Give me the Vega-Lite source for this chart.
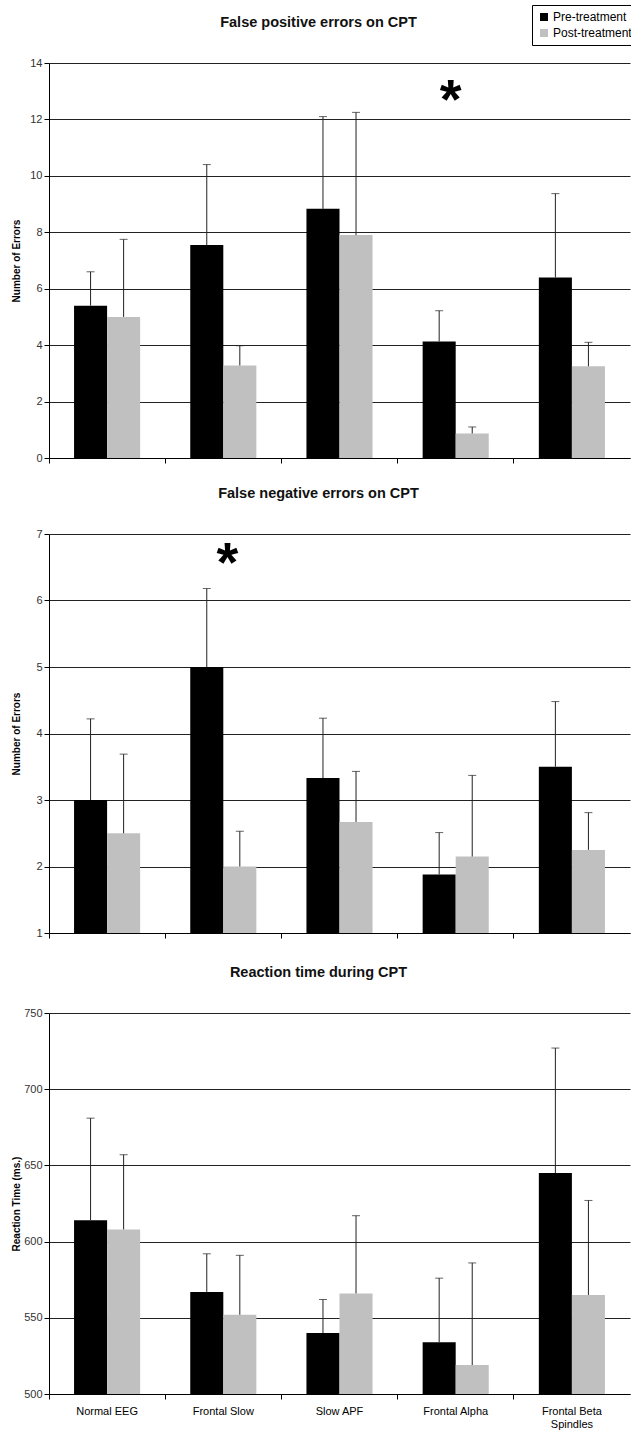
{
  "$schema": "https://vega.github.io/schema/vega-lite/v6.json",
  "autosize": {"type": "pad"},
  "padding": {"left": 11, "top": 4, "right": 0, "bottom": 8},
  "background": "white",
  "bounds": "flush",
  "spacing": 76,
  "config": {
    "font": "Liberation Sans",
    "view": {"stroke": null},
    "title": {"fontSize": 14.5, "fontWeight": "bold", "color": "#111", "offset": 27, "dx": -21, "anchor": "middle"},
    "axis": {"labelFont": "Liberation Sans", "labelFontSize": 11, "labelColor": "#333", "domainColor": "black", "tickColor": "black", "gridColor": "#222", "gridOpacity": 1, "titleFontSize": 10, "titleFontWeight": "bold", "titleColor": "black", "tickSize": 5, "labelPadding": 2},
    "legend": {"labelFont": "Liberation Sans", "labelFontSize": 12, "labelColor": "black"}
  },
  "datasets": {
    "fp": [
      {"category": "Normal EEG", "group": "Pre-treatment", "value": 5.4, "err": 6.6},
      {"category": "Normal EEG", "group": "Post-treatment", "value": 5.0, "err": 7.75},
      {"category": "Frontal Slow", "group": "Pre-treatment", "value": 7.55, "err": 10.4},
      {"category": "Frontal Slow", "group": "Post-treatment", "value": 3.28, "err": 3.98},
      {"category": "Slow APF", "group": "Pre-treatment", "value": 8.83, "err": 12.1},
      {"category": "Slow APF", "group": "Post-treatment", "value": 7.9, "err": 12.25},
      {"category": "Frontal Alpha", "group": "Pre-treatment", "value": 4.13, "err": 5.22},
      {"category": "Frontal Alpha", "group": "Post-treatment", "value": 0.87, "err": 1.1},
      {"category": "Frontal Beta Spindles", "group": "Pre-treatment", "value": 6.4, "err": 9.37},
      {"category": "Frontal Beta Spindles", "group": "Post-treatment", "value": 3.25, "err": 4.1}
    ],
    "fn": [
      {"category": "Normal EEG", "group": "Pre-treatment", "value": 3.0, "err": 4.22},
      {"category": "Normal EEG", "group": "Post-treatment", "value": 2.5, "err": 3.69},
      {"category": "Frontal Slow", "group": "Pre-treatment", "value": 5.0, "err": 6.18},
      {"category": "Frontal Slow", "group": "Post-treatment", "value": 2.0, "err": 2.53},
      {"category": "Slow APF", "group": "Pre-treatment", "value": 3.33, "err": 4.23},
      {"category": "Slow APF", "group": "Post-treatment", "value": 2.67, "err": 3.43},
      {"category": "Frontal Alpha", "group": "Pre-treatment", "value": 1.88, "err": 2.51},
      {"category": "Frontal Alpha", "group": "Post-treatment", "value": 2.15, "err": 3.37},
      {"category": "Frontal Beta Spindles", "group": "Pre-treatment", "value": 3.5, "err": 4.48},
      {"category": "Frontal Beta Spindles", "group": "Post-treatment", "value": 2.25, "err": 2.81}
    ],
    "rt": [
      {"category": "Normal EEG", "group": "Pre-treatment", "value": 614, "err": 681},
      {"category": "Normal EEG", "group": "Post-treatment", "value": 608, "err": 657},
      {"category": "Frontal Slow", "group": "Pre-treatment", "value": 567, "err": 592},
      {"category": "Frontal Slow", "group": "Post-treatment", "value": 552, "err": 591},
      {"category": "Slow APF", "group": "Pre-treatment", "value": 540, "err": 562},
      {"category": "Slow APF", "group": "Post-treatment", "value": 566, "err": 617},
      {"category": "Frontal Alpha", "group": "Pre-treatment", "value": 534, "err": 576},
      {"category": "Frontal Alpha", "group": "Post-treatment", "value": 519, "err": 586},
      {"category": "Frontal Beta Spindles", "group": "Pre-treatment", "value": 645, "err": 727},
      {"category": "Frontal Beta Spindles", "group": "Post-treatment", "value": 565, "err": 627}
    ],
    "star1": [{"category": "Frontal Alpha", "y": 12.65, "label": "*"}],
    "star2": [{"category": "Frontal Slow", "y": 6.55, "label": "*"}]
  },
  "vconcat": [
    {
      "title": "False positive errors on CPT",
      "width": 581,
      "height": 395,
      "data": {"name": "fp"},
      "encoding": {
        "x": {"field": "category", "type": "nominal", "sort": null, "scale": {"paddingInner": 0, "paddingOuter": 0},
              "axis": {"title": null, "labels": false, "bandPosition": 0, "grid": false}}
      },
      "layer": [
        {
          "mark": {"type": "bar"},
          "encoding": {
            "xOffset": {"field": "group", "type": "nominal", "sort": ["Pre-treatment", "Post-treatment"], "scale": {"paddingInner": 0, "paddingOuter": 0.758}},
            "y": {"field": "value", "type": "quantitative", "scale": {"domain": [0, 14], "nice": false},
                  "axis": {"title": "Number of Errors", "values": [0, 2, 4, 6, 8, 10, 12, 14], "grid": true, "titleX": -28}},
            "color": {"field": "group", "type": "nominal", "sort": ["Pre-treatment", "Post-treatment"],
                      "scale": {"domain": ["Pre-treatment", "Post-treatment"], "range": ["#000000", "#c0c0c0"]},
                      "legend": {"title": null, "orient": "none", "legendX": 483, "legendY": -58, "symbolType": "square", "symbolSize": 64, "symbolStrokeWidth": 0, "strokeColor": "black", "fillColor": "white", "padding": 6, "rowPadding": 4, "labelOffset": 3}}
          }
        },
        {
          "mark": {"type": "rule", "color": "#222"},
          "encoding": {"xOffset": {"field": "group", "type": "nominal", "sort": ["Pre-treatment", "Post-treatment"]}, "y": {"field": "value", "type": "quantitative"}, "y2": {"field": "err"}}
        },
        {
          "mark": {"type": "tick", "color": "#222", "orient": "horizontal", "size": 8, "thickness": 1},
          "encoding": {"xOffset": {"field": "group", "type": "nominal", "sort": ["Pre-treatment", "Post-treatment"]}, "y": {"field": "err", "type": "quantitative"}}
        },
        {
          "data": {"name": "star1"},
          "mark": {"type": "text", "fontSize": 56, "fontWeight": "bold", "color": "black", "baseline": "middle", "align": "center", "dx": -5},
          "encoding": {"x": {"field": "category", "type": "nominal", "bandPosition": 0.5}, "y": {"field": "y", "type": "quantitative"}, "text": {"field": "label"}}
        }
      ]
    },
    {
      "vconcat": [
        {
          "title": "False negative errors on CPT",
          "width": 581,
          "height": 399,
          "data": {"name": "fn"},
          "encoding": {
            "x": {"field": "category", "type": "nominal", "sort": null, "scale": {"paddingInner": 0, "paddingOuter": 0},
                  "axis": {"title": null, "labels": false, "bandPosition": 0, "grid": false}}
          },
          "layer": [
            {
              "mark": {"type": "bar"},
              "encoding": {
                "xOffset": {"field": "group", "type": "nominal", "sort": ["Pre-treatment", "Post-treatment"], "scale": {"paddingInner": 0, "paddingOuter": 0.758}},
                "y": {"field": "value", "type": "quantitative", "scale": {"domain": [1, 7], "nice": false, "zero": false},
                      "axis": {"title": "Number of Errors", "values": [1, 2, 3, 4, 5, 6, 7], "format": "d", "grid": true, "titleX": -28}},
                "y2": {"datum": 1},
                "color": {"field": "group", "type": "nominal", "sort": ["Pre-treatment", "Post-treatment"],
                          "scale": {"domain": ["Pre-treatment", "Post-treatment"], "range": ["#000000", "#c0c0c0"]}, "legend": null}
              }
            },
            {
              "mark": {"type": "rule", "color": "#222"},
              "encoding": {"xOffset": {"field": "group", "type": "nominal", "sort": ["Pre-treatment", "Post-treatment"]}, "y": {"field": "value", "type": "quantitative"}, "y2": {"field": "err"}}
            },
            {
              "mark": {"type": "tick", "color": "#222", "orient": "horizontal", "size": 8, "thickness": 1},
              "encoding": {"xOffset": {"field": "group", "type": "nominal", "sort": ["Pre-treatment", "Post-treatment"]}, "y": {"field": "err", "type": "quantitative"}}
            },
            {
              "data": {"name": "star2"},
              "mark": {"type": "text", "fontSize": 56, "fontWeight": "bold", "color": "black", "baseline": "middle", "align": "center", "dx": 4},
              "encoding": {"x": {"field": "category", "type": "nominal", "bandPosition": 0.5}, "y": {"field": "y", "type": "quantitative"}, "text": {"field": "label"}}
            }
          ]
        },
        {
          "title": "Reaction time during CPT",
          "width": 581,
          "height": 381,
          "data": {"name": "rt"},
          "encoding": {
            "x": {"field": "category", "type": "nominal", "sort": null, "scale": {"paddingInner": 0, "paddingOuter": 0},
                  "axis": {"title": null, "labelAngle": 0, "bandPosition": 0, "grid": false, "labelPadding": 6, "labelColor": "black",
                           "labelExpr": "datum.value == 'Frontal Beta Spindles' ? ['Frontal Beta', 'Spindles'] : datum.value"}}
          },
          "layer": [
            {
              "mark": {"type": "bar"},
              "encoding": {
                "xOffset": {"field": "group", "type": "nominal", "sort": ["Pre-treatment", "Post-treatment"], "scale": {"paddingInner": 0, "paddingOuter": 0.758}},
                "y": {"field": "value", "type": "quantitative", "scale": {"domain": [500, 750], "nice": false, "zero": false},
                      "axis": {"title": "Reaction Time (ms.)", "values": [500, 550, 600, 650, 700, 750], "grid": true, "titleX": -28}},
                "y2": {"datum": 500},
                "color": {"field": "group", "type": "nominal", "sort": ["Pre-treatment", "Post-treatment"],
                          "scale": {"domain": ["Pre-treatment", "Post-treatment"], "range": ["#000000", "#c0c0c0"]}, "legend": null}
              }
            },
            {
              "mark": {"type": "rule", "color": "#222"},
              "encoding": {"xOffset": {"field": "group", "type": "nominal", "sort": ["Pre-treatment", "Post-treatment"]}, "y": {"field": "value", "type": "quantitative"}, "y2": {"field": "err"}}
            },
            {
              "mark": {"type": "tick", "color": "#222", "orient": "horizontal", "size": 8, "thickness": 1},
              "encoding": {"xOffset": {"field": "group", "type": "nominal", "sort": ["Pre-treatment", "Post-treatment"]}, "y": {"field": "err", "type": "quantitative"}}
            }
          ]
        }
      ],
      "spacing": 80,
      "bounds": "flush"
    }
  ]
}
